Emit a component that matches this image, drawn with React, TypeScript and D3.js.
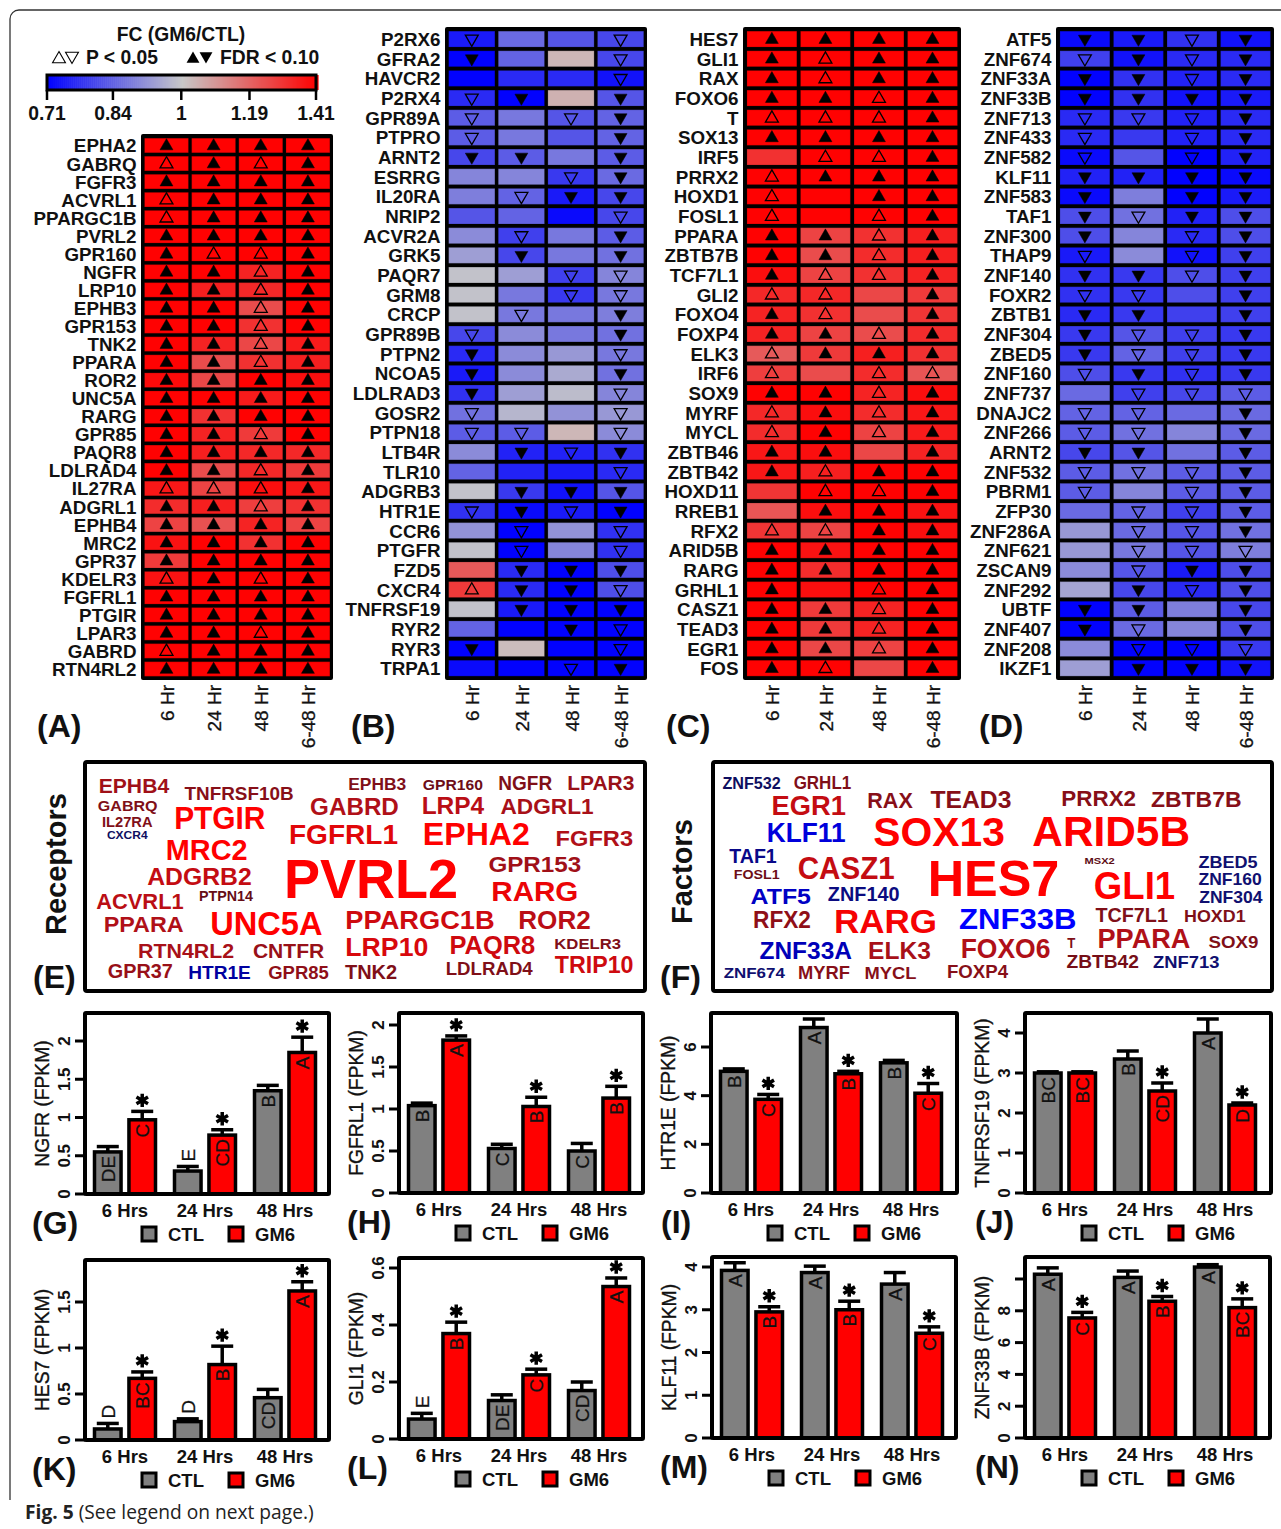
import React from "react";
import * as d3 from "d3";

const FONT = "'Liberation Sans', Arial, sans-serif";
const timeLabels = ["6 Hr", "24 Hr", "48 Hr", "6-48 Hr"];

// ---------- heat map data: fold change per row, marks: F filled, O open, - none
const genesA = ["EPHA2","GABRQ","FGFR3","ACVRL1","PPARGC1B","PVRL2","GPR160","NGFR","LRP10","EPHB3","GPR153","TNK2","PPARA","ROR2","UNC5A","RARG","GPR85","PAQR8","LDLRAD4","IL27RA","ADGRL1","EPHB4","MRC2","GPR37","KDELR3","FGFRL1","PTGIR","LPAR3","GABRD","RTN4RL2"];
const valuesA = [[1.41,1.41,1.41,1.41],[1.41,1.41,1.41,1.41],[1.41,1.41,1.41,1.41],[1.41,1.41,1.41,1.41],[1.41,1.41,1.41,1.41],[1.41,1.41,1.41,1.41],[1.41,1.41,1.41,1.41],[1.41,1.41,1.33,1.41],[1.41,1.34,1.32,1.41],[1.41,1.41,1.24,1.41],[1.41,1.41,1.30,1.41],[1.41,1.33,1.25,1.35],[1.41,1.24,1.30,1.34],[1.39,1.25,1.41,1.38],[1.41,1.41,1.35,1.41],[1.41,1.30,1.41,1.41],[1.41,1.33,1.28,1.41],[1.41,1.34,1.32,1.32],[1.41,1.24,1.32,1.28],[1.36,1.26,1.38,1.36],[1.31,1.34,1.27,1.30],[1.26,1.23,1.33,1.26],[1.37,1.41,1.30,1.41],[1.28,1.41,1.41,1.41],[1.37,1.41,1.41,1.41],[1.41,1.41,1.41,1.41],[1.41,1.41,1.41,1.41],[1.41,1.41,1.41,1.41],[1.41,1.41,1.41,1.41],[1.41,1.41,1.41,1.41]];
const marksA = ["FFFF","OFOF","FFFF","OFFF","OFFF","FFFF","FOOF","FFOF","FFOF","FFOF","FFOF","FFOF","FFOF","FFFF","FFFF","FFFF","FFOF","FFFF","FFOF","OOOF","FFOF","FFFF","FFFF","FFFF","OFOF","FFFF","FFFF","FFOF","OFFF","FFFF"];

const genesB = ["P2RX6","GFRA2","HAVCR2","P2RX4","GPR89A","PTPRO","ARNT2","ESRRG","IL20RA","NRIP2","ACVR2A","GRK5","PAQR7","GRM8","CRCP","GPR89B","PTPN2","NCOA5","LDLRAD3","GOSR2","PTPN18","LTB4R","TLR10","ADGRB3","HTR1E","CCR6","PTGFR","FZD5","CXCR4","TNFRSF19","RYR2","RYR3","TRPA1"];
const valuesB = [[.74,.85,.82,.80],[.71,.84,1.03,.80],[.71,.76,.76,.73],[.76,.71,1.04,.82],[.83,.87,.82,.84],[.83,.87,.82,.84],[.80,.83,.87,.83],[.89,.89,.78,.85],[.88,.84,.74,.80],[.82,.84,.72,.80],[.90,.79,.87,.83],[.93,.80,.87,.86],[.99,.93,.79,.89],[.99,.87,.78,.87],[.99,.87,.87,.88],[.80,.90,.87,.86],[.76,.90,.92,.87],[.74,.90,.95,.86],[.77,.93,.98,.89],[.86,.97,.91,.92],[.83,.83,1.03,.90],[.90,.75,.75,.77],[.84,.75,.74,.76],[.99,.78,.73,.82],[.77,.72,.74,.71],[.91,.71,.91,.77],[.99,.71,.89,.77],[1.21,.76,.71,.81],[1.28,.76,.71,.81],[.99,.74,.71,.71],[.84,.71,.71,.71],[.71,1.02,.71,.71],[.72,.71,.71,.71]];
const marksB = ["O--O","F--O","---O","OF-F","O-OF","O--F","FF-F","--OF","-OFF","---O","-O-F","-F-F","--OO","--OO","-O-F","O--F","F--O","F--F","F--O","O--O","OO-O","-FOF","---O","-FFF","OFOF","-O-O","-O-O","-FFF","OFFO","-FFF","--FO","F--O","--OF"];

const genesC = ["HES7","GLI1","RAX","FOXO6","T","SOX13","IRF5","PRRX2","HOXD1","FOSL1","PPARA","ZBTB7B","TCF7L1","GLI2","FOXO4","FOXP4","ELK3","IRF6","SOX9","MYRF","MYCL","ZBTB46","ZBTB42","HOXD11","RREB1","RFX2","ARID5B","RARG","GRHL1","CASZ1","TEAD3","EGR1","FOS"];
const valuesC = [[1.41,1.41,1.41,1.41],[1.41,1.41,1.41,1.41],[1.41,1.41,1.41,1.41],[1.41,1.41,1.41,1.41],[1.41,1.41,1.41,1.41],[1.41,1.41,1.41,1.41],[1.30,1.41,1.41,1.41],[1.41,1.41,1.41,1.41],[1.41,1.41,1.41,1.41],[1.41,1.41,1.41,1.41],[1.41,1.26,1.30,1.34],[1.41,1.24,1.31,1.34],[1.38,1.26,1.30,1.33],[1.32,1.32,1.25,1.28],[1.33,1.30,1.24,1.29],[1.33,1.26,1.24,1.31],[1.21,1.28,1.34,1.30],[1.27,1.24,1.31,1.22],[1.41,1.41,1.33,1.38],[1.32,1.38,1.31,1.36],[1.31,1.41,1.26,1.35],[1.36,1.38,1.25,1.33],[1.36,1.34,1.41,1.41],[1.29,1.41,1.41,1.41],[1.22,1.38,1.41,1.37],[1.29,1.26,1.41,1.38],[1.41,1.37,1.41,1.41],[1.41,1.31,1.41,1.41],[1.41,1.38,1.41,1.41],[1.41,1.28,1.33,1.41],[1.41,1.28,1.33,1.41],[1.41,1.25,1.26,1.41],[1.41,1.41,1.25,1.41]];
const marksC = ["FFFF","FOFF","FOFF","FFOF","OOOF","FFFF","-OOF","OFFF","O-FF","O-OF","FFOF","FFOF","FOOF","OO-F","FO-F","FFOF","OFFF","O-OO","FFOF","OFOF","OFOF","FF-F","FOFF","-OOF","-FFF","OOFF","FFFF","FFFF","F-OF","FFOF","FFOF","FFOF","FO-F"];

const genesD = ["ATF5","ZNF674","ZNF33A","ZNF33B","ZNF713","ZNF433","ZNF582","KLF11","ZNF583","TAF1","ZNF300","THAP9","ZNF140","FOXR2","ZBTB1","ZNF304","ZBED5","ZNF160","ZNF737","DNAJC2","ZNF266","ARNT2","ZNF532","PBRM1","ZFP30","ZNF286A","ZNF621","ZSCAN9","ZNF292","UBTF","ZNF407","ZNF208","IKZF1"];
const valuesD = [[.72,.74,.77,.73],[.79,.73,.76,.76],[.71,.77,.75,.76],[.71,.77,.73,.74],[.76,.78,.75,.76],[.76,.78,.75,.76],[.72,.82,.71,.75],[.75,.75,.71,.72],[.72,.88,.71,.74],[.81,.86,.75,.81],[.81,.89,.76,.81],[.74,.90,.73,.79],[.77,.78,.81,.79],[.77,.78,.81,.79],[.76,.78,.79,.79],[.78,.82,.79,.78],[.78,.84,.79,.78],[.81,.78,.77,.78],[.85,.79,.80,.83],[.84,.84,.85,.85],[.83,.86,.89,.85],[.80,.82,.86,.83],[.83,.86,.83,.83],[.83,.89,.83,.83],[.85,.84,.79,.83],[.92,.85,.82,.86],[.92,.87,.82,.88],[.90,.82,.74,.81],[.94,.80,.76,.81],[.71,.83,.88,.80],[.71,.85,.89,.81],[.90,.71,.71,.78],[.93,.71,.71,.73]];
const marksD = ["FFOF","OFOF","FFOF","FFFF","OOOF","O-OF","O-OF","FFFF","F-FF","FOFF","F-OF","O-OF","FFOF","OO-F","FF-F","FOOF","FOOF","OFOF","-OOO","OO-F","OO-F","FF-F","OOOF","O-OF","-OOF","-OOF","-OOO","-OFF","-FOF","FF-F","FO-F","-OOO","-FFF"];

// ---------- word clouds
const wordsE = ["EPHB4","TNFRSF10B","EPHB3","GPR160","NGFR","LPAR3","GABRQ","IL27RA","CXCR4","PTGIR","GABRD","LRP4","ADGRL1","FGFRL1","EPHA2","FGFR3","MRC2","PVRL2","GPR153","ADGRB2","RARG","ACVRL1","PTPN14","PPARA","UNC5A","PPARGC1B","ROR2","RTN4RL2","CNTFR","LRP10","PAQR8","KDELR3","TRIP10","GPR37","HTR1E","GPR85","TNK2","LDLRAD4"];
const strengthE = [.5,.35,.3,.2,.3,.45,.3,.3,.2,1,.6,.65,.55,.85,1,.6,1,1,.5,.7,.9,.65,.15,.6,1,.75,.65,.55,.45,.8,.75,.3,.75,.45,.6,.4,.3,.3];
const wordBoxE = [[238,408,85,130],[445,708,112,152],[840,980,85,122],[1020,1165,88,122],[1202,1332,78,122],[1368,1530,78,122],[236,380,150,185],[246,368,200,232],[258,356,245,270],[420,640,172,240],[748,962,145,198],[1017,1168,140,195],[1207,1432,142,193],[697,960,222,285],[1020,1278,220,288],[1340,1527,240,290],[400,597,265,332],[685,1105,325,445],[1178,1402,318,368],[355,607,355,408],[1185,1395,392,455],[232,443,428,478],[480,610,424,456],[250,443,497,547],[507,778,483,556],[833,1193,483,540],[1250,1425,483,540],[333,565,578,625],[610,782,580,627],[833,1033,562,620],[1084,1291,558,615],[1337,1498,565,600],[1338,1528,618,670],[260,417,642,686],[454,605,648,690],[647,793,648,690],[832,958,645,690],[1075,1285,635,678]];
const downE = ["CXCR4","HTR1E"];
const wordsF = ["ZNF532","GRHL1","EGR1","RAX","TEAD3","PRRX2","ZBTB7B","KLF11","SOX13","ARID5B","TAF1","FOSL1","CASZ1","HES7","MSX2","GLI1","ZBED5","ZNF160","ZNF304","ATF5","ZNF140","RFX2","RARG","ZNF33B","TCF7L1","HOXD1","PPARA","SOX9","T","ZNF33A","ELK3","FOXO6","ZBTB42","ZNF713","ZNF674","MYRF","MYCL","FOXP4"];
const strengthF = [.2,.3,.7,.35,.35,.35,.35,.85,1,1,.45,.2,.7,1,.1,1,.3,.3,.3,.75,.4,.4,.95,1,.3,.3,.6,.3,.3,.7,.55,.6,.25,.3,.3,.35,.35,.35];
const wordBoxF = [[180,325,82,118],[357,500,78,120],[302,487,135,198],[540,653,125,175],[697,898,120,175],[1022,1208,120,170],[1245,1470,122,172],[290,486,218,278],[555,882,200,290],[950,1342,197,290],[197,315,295,342],[208,322,358,388],[367,608,322,390],[690,1017,330,440],[1080,1155,320,343],[1103,1305,362,448],[1363,1510,318,355],[1363,1520,370,408],[1365,1522,423,460],[250,400,412,463],[442,620,410,455],[256,400,483,535],[457,713,475,550],[768,1060,475,540],[1107,1287,473,517],[1327,1480,478,517],[1112,1343,535,595],[1388,1512,558,597],[1037,1057,563,595],[272,502,575,630],[542,698,577,630],[772,995,565,625],[1035,1215,617,657],[1250,1415,617,655],[183,335,650,685],[368,497,650,690],[533,662,652,690],[738,890,645,685]];
const downF = ["ZNF532","KLF11","TAF1","ZBED5","ZNF160","ZNF304","ATF5","ZNF140","ZNF33B","ZNF33A","ZNF713","ZNF674"];

// ---------- bar chart data
const groups = ["6 Hrs","24 Hrs","48 Hrs"];
const seriesNames = ["CTL","GM6"];
const ticks01 = [0,0.5,1,1.5,2];
const barGenes = ["NGFR","FGFRL1","HTR1E","TNFRSF19","HES7","GLI1","KLF11","ZNF33B"];
const ctlMeans = [[.55,.30,1.35],[1.04,.53,.50],[5.0,6.8,5.35],[3.0,3.35,4.0],[.12,.2,.46],[.07,.135,.17],[3.92,3.87,3.6],[10.3,10.1,10.75]];
const ctlTops = [[.62,.36,1.42],[1.07,.58,.59],[5.1,7.15,5.45],[3.03,3.55,4.35],[.18,.23,.55],[.09,.155,.2],[4.1,4.02,3.87],[10.7,10.5,10.9]];
const gm6Means = [[.97,.77,1.85],[1.82,1.03,1.13],[3.85,4.9,4.1],[3.0,2.55,2.2],[.67,.82,1.62],[.37,.225,.535],[2.95,3.0,2.45],[7.55,8.6,8.2]];
const gm6Tops = [[1.08,.84,2.05],[1.87,1.14,1.27],[4.05,5.0,4.5],[3.03,2.75,2.25],[.74,1.02,1.72],[.41,.245,.565],[3.07,3.2,2.6],[7.9,8.9,8.75]];
const ctlLetters = [["DE","E","B"],["B","C","C"],["B","A","B"],["BC","B","A"],["D","D","CD"],["E","DE","CD"],["A","A","A"],["A","A","A"]];
const gm6Letters = [["C","CD","A"],["A","B","B"],["C","B","C"],["BC","CD","D"],["BC","B","A"],["B","C","A"],["B","B","C"],["C","B","BC"]];
const gm6Stars = [[1,1,1],[1,1,1],[1,1,1],[0,1,1],[1,1,1],[1,1,1],[1,1,1],[1,1,1]];
const axisTicks = [ticks01,ticks01,[0,2,4,6],[0,1,2,3,4],[0,.5,1,1.5],[0,.2,.4,.6],[0,1,2,3,4],[0,2,4,6,8,10]];
const hiddenTicks = [10];

// ---------- layout (pixels), kept apart from the data
const heatLayouts = [
  { outer:[141,333,134,680], yr:[134.75,679.75], label:"(A)", lx:37 },
  { outer:[445,647,27,680], yr:[27.4,679.9], label:"(B)", lx:351 },
  { outer:[743,961,27,680], yr:[27.4,679.9], label:"(C)", lx:666 },
  { outer:[1056,1274,27,680], yr:[27.4,679.9], label:"(D)", lx:979 },
];
const barFrames = [
  { box:[85,329,1013,1194], refV:2, refY:1041, label:"(G)", lx:32 },
  { box:[399,643,1013,1193], refV:2, refY:1025, label:"(H)", lx:347 },
  { box:[711,957,1013,1193], refV:6, refY:1047, label:"(I)", lx:661 },
  { box:[1025,1271,1013,1193], refV:4, refY:1033, label:"(J)", lx:975 },
  { box:[85,329,1260,1440], refV:1.5, refY:1302, label:"(K)", lx:32 },
  { box:[399,643,1258,1439], refV:.6, refY:1268, label:"(L)", lx:347 },
  { box:[712,956,1257,1438], refV:4, refY:1267, label:"(M)", lx:660 },
  { box:[1025,1270,1257,1438], refV:10, refY:1279, label:"(N)", lx:975 },
];

const heatColor = d3.scaleLinear<string>().domain([-0.5,0,0.5]).range(["#0000ff","#c8c8c8","#ff0000"]).clamp(true);
const colorOf = (v: number) => heatColor(Math.log2(v));
const triPath = d3.symbol().type(d3.symbolTriangle).size(72)() as string;
const starPath = d3.symbol().type(d3.symbolAsterisk).size(125)() as string;

function Heat({ genes, values, marks, layout }: any) {
  const [ox0, ox1, oy0, oy1] = layout.outer;
  const x = d3.scaleBand<number>().domain([0,1,2,3]).range([ox0+0.3, ox1+0.1]).padding(0.068);
  const y = d3.scaleBand<number>().domain(d3.range(genes.length)).range(layout.yr).padding(0.19);
  return (
    <g>
      <rect x={ox0} y={oy0} width={ox1-ox0} height={oy1-oy0} rx={2} fill="#000" />
      {values.map((row: number[], r: number) => row.map((v, c) => {
        const m = marks[r][c];
        const cx = x(c)! + x.bandwidth()/2;
        const cy = y(r)! + y.bandwidth()/2;
        const up = v >= 1;
        return (
          <g key={`${r}-${c}`}>
            <rect x={x(c)} y={y(r)} width={x.bandwidth()} height={y.bandwidth()} fill={colorOf(v)} stroke="#000" strokeOpacity={0.18} strokeWidth={1} />
            {m !== "-" && (
              <path d={triPath} transform={up ? `translate(${cx},${cy+0.6})` : `translate(${cx},${cy-0.2}) rotate(180)`}
                fill={m === "F" ? "#000" : "none"} stroke="#000" strokeWidth={m === "F" ? 0.5 : 1.3} />
            )}
          </g>
        );
      }))}
      {genes.map((g: string, r: number) => (
        <text key={g} x={ox0-4.5} y={y(r)! + y.bandwidth()/2 + 7} textAnchor="end" fontSize={18.8} fontWeight="bold" fontFamily={FONT} fill="#111">{g}</text>
      ))}
      {timeLabels.map((t, c) => (
        <text key={t} transform={`translate(${x(c)!+x.bandwidth()/2+7.5},685) rotate(-90)`} textAnchor="end" fontSize={19} fontFamily={FONT} fill="#111" stroke="#111" strokeWidth={0.3}>{t}</text>
      ))}
      <text x={layout.lx} y={737} fontSize={32} fontWeight="bold" fontFamily={FONT} fill="#111">{layout.label}</text>
    </g>
  );
}

const redByStrength = d3.scaleLinear<string>().domain([0,.3,.6,1]).range(["#4a0a14","#7f0f18","#b01018","#ff0000"]).clamp(true);
const blueByStrength = d3.scaleLinear<string>().domain([0,.3,.6,1]).range(["#0a0a40","#101070","#0000a0","#0000ff"]).clamp(true);

function Cloud({ words, strength, boxes, down, sx, ox, oy }: any) {
  return (
    <g>
      {words.map((w: string, i: number) => {
        const [a,b,c,d] = boxes[i];
        const h = (d-c)/3;
        const fill = down.includes(w) ? blueByStrength(strength[i]) : redByStrength(strength[i]);
        return (
          <text key={w} x={a/sx+ox} y={d/3+oy-0.8} fontSize={(h-0.8)/0.716} fontWeight="bold" fontFamily={FONT}
            textLength={(b-a)/sx} lengthAdjust="spacingAndGlyphs" fill={fill}>{w}</text>
        );
      })}
    </g>
  );
}

function Bars({ i }: { i: number }) {
  const f = barFrames[i];
  const [x0, x1, y0, y1] = f.box;
  const y = d3.scaleLinear().domain([0, f.refV]).range([y1, f.refY]);
  const gx = d3.scaleBand<string>().domain(groups).range([x0, x0+240]);
  const sx = d3.scaleBand<string>().domain(seriesNames).range([-31,31]).paddingInner(0.2);
  const bw = sx.bandwidth() - 1;
  const series = [
    { name:"CTL", fill:"#808080", means:ctlMeans[i], tops:ctlTops[i], letters:ctlLetters[i], stars:[0,0,0] },
    { name:"GM6", fill:"#ff0000", means:gm6Means[i], tops:gm6Tops[i], letters:gm6Letters[i], stars:gm6Stars[i] },
  ];
  return (
    <g fontFamily={FONT} fill="#111">
      {series.map(s => groups.map((g, k) => {
        const cx = gx(g)! + gx.bandwidth()/2 + sx(s.name)! + sx.bandwidth()/2;
        const top = y(s.means[k]);
        const err = y(s.tops[k]);
        const above = y1 - top < 25;
        return (
          <g key={s.name+g}>
            <line x1={cx} x2={cx} y1={top} y2={err} stroke="#000" strokeWidth={3.5} />
            <line x1={cx-11} x2={cx+11} y1={err} y2={err} stroke="#000" strokeWidth={3.5} />
            <rect x={cx-bw/2} y={top} width={bw} height={y1-top} fill={s.fill} stroke="#000" strokeWidth={3.5} />
            <text transform={`translate(${cx+7},${above ? err-5 : top+4}) rotate(-90)`} textAnchor={above ? "start" : "end"} fontSize={19} fill="#111" stroke="#111" strokeWidth={0.25}>{s.letters[k]}</text>
            {s.stars[k] ? <path d={starPath} transform={`translate(${cx},${err-11})`} fill="none" stroke="#000" strokeWidth={3.5} /> : null}
          </g>
        );
      }))}
      <rect x={x0} y={y0} width={x1-x0} height={y1-y0} fill="none" stroke="#000" strokeWidth={4} rx={1} />
      {axisTicks[i].map(t => (
        <g key={t}>
          <line x1={x0-10} x2={x0} y1={y(t)} y2={y(t)} stroke="#000" strokeWidth={3} />
          {!hiddenTicks.includes(t) && (
            <text transform={`translate(${x0-15},${y(t)}) rotate(-90)`} textAnchor="middle" fontSize={17} fontWeight="bold">{String(t)}</text>
          )}
        </g>
      ))}
      <text transform={`translate(${x0-36},${(y0+y1)/2}) rotate(-90)`} textAnchor="middle" fontSize={19.3} stroke="#111" strokeWidth={0.35}>{`${barGenes[i]} (FPKM)`}</text>
      {groups.map(g => (
        <text key={g} x={gx(g)!+gx.bandwidth()/2} y={y1+23} textAnchor="middle" fontSize={18.5} fontWeight="bold">{g}</text>
      ))}
      <rect x={x0+57} y={y1+33} width={14} height={14} fill="#808080" stroke="#000" strokeWidth={3} />
      <text x={x0+83} y={y1+47} fontSize={18.5} fontWeight="bold">CTL</text>
      <rect x={x0+144} y={y1+33} width={14} height={14} fill="#ff0000" stroke="#000" strokeWidth={3} />
      <text x={x0+170} y={y1+47} fontSize={18.5} fontWeight="bold">GM6</text>
      <text x={f.lx} y={y1+39.5} fontSize={32} fontWeight="bold">{f.label}</text>
    </g>
  );
}

const legendTicks = [0.71,0.84,1,1.19,1.41];

function Legend() {
  const x = d3.scaleLog().base(2).domain([0.71,1.41]).range([47,316]);
  const steps = d3.range(0,135).map(i => 0.71 * Math.pow(1.41/0.71, i/134));
  return (
    <g fontFamily={FONT} fontWeight="bold" fill="#111">
      <text x={181} y={41} textAnchor="middle" fontSize={19.3}>FC (GM6/CTL)</text>
      <path d={triPath} transform="translate(59,59)" fill="none" stroke="#000" strokeWidth={1.1} />
      <path d={triPath} transform="translate(72,56) rotate(180)" fill="none" stroke="#000" strokeWidth={1.1} />
      <text x={86} y={64} fontSize={19.3}>P &lt; 0.05</text>
      <path d={triPath} transform="translate(193,59)" fill="#000" />
      <path d={triPath} transform="translate(206,56) rotate(180)" fill="#000" />
      <text x={220} y={64} fontSize={19.3}>FDR &lt; 0.10</text>
      {steps.map((v, i) => (
        <rect key={i} x={x(v)} y={75} width={2.6} height={15} fill={colorOf(v)} />
      ))}
      <rect x={47} y={75} width={269} height={15} fill="none" stroke="#000" strokeWidth={3} />
      {legendTicks.map(t => (
        <g key={t}>
          <line x1={x(t)} x2={x(t)} y1={90} y2={100} stroke="#000" strokeWidth={2.5} />
          <text x={x(t)} y={120} textAnchor="middle" fontSize={19.3}>{t}</text>
        </g>
      ))}
    </g>
  );
}

export default function App() {
  return (
    <svg width={1281} height={1529} style={{ position:"absolute", left:0, top:0, display:"block", background:"#fff" }}>
      <path d="M1281,10 L19,10 A9,9 0 0 0 10,19 L10,1500" fill="none" stroke="#333" strokeWidth={1.3} />
      <Legend />
      <Heat genes={genesA} values={valuesA} marks={marksA} layout={heatLayouts[0]} />
      <Heat genes={genesB} values={valuesB} marks={marksB} layout={heatLayouts[1]} />
      <Heat genes={genesC} values={valuesC} marks={marksC} layout={heatLayouts[2]} />
      <Heat genes={genesD} values={valuesD} marks={marksD} layout={heatLayouts[3]} />

      <rect x={85} y={762} width={560} height={229} fill="none" stroke="#000" strokeWidth={4} rx={2} />
      <rect x={713} y={762} width={559} height={229} fill="none" stroke="#000" strokeWidth={4} rx={2} />
      <Cloud words={wordsE} strength={strengthE} boxes={wordBoxE} down={downE} sx={2.412} ox={0} oy={750} />
      <Cloud words={wordsF} strength={strengthF} boxes={wordBoxF} down={downF} sx={2.485} ox={650} oy={750} />
      <text transform="translate(66,935) rotate(-90)" fontFamily={FONT} fontWeight="bold" fontSize={29} fill="#111">Receptors</text>
      <text transform="translate(692,924) rotate(-90)" fontFamily={FONT} fontWeight="bold" fontSize={29} fill="#111">Factors</text>
      <text x={33} y={988} fontFamily={FONT} fontWeight="bold" fontSize={32} fill="#111">(E)</text>
      <text x={660} y={988} fontFamily={FONT} fontWeight="bold" fontSize={32} fill="#111">(F)</text>

      {barFrames.map((_, i) => <Bars key={i} i={i} />)}

      <text x={25} y={1519} fontFamily="'Open Sans', sans-serif" fontSize={19.2} fill="#222">
        <tspan fontWeight="bold">Fig. 5</tspan> (See legend on next page.)
      </text>
    </svg>
  );
}
